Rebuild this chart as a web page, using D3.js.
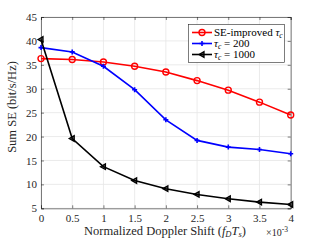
<!DOCTYPE html>
<html><head><meta charset="utf-8">
<script src="https://cdn.jsdelivr.net/npm/d3@7"></script>
<style>body{margin:0;background:#fff}svg{display:block}</style>
</head><body><svg id="c" width="321" height="241"></svg>
<script>
const xVals = [0, 0.5, 1, 1.5, 2, 2.5, 3, 3.5, 4];
const seImproved = [36.3, 36.1, 35.6, 34.7, 33.5, 31.7, 29.7, 27.2, 24.5];
const tau200 = [38.6, 37.7, 34.7, 29.8, 23.5, 19.2, 17.8, 17.3, 16.4];
const tau1000 = [40.3, 19.6, 13.7, 10.8, 9.1, 7.9, 7.0, 6.3, 5.8];
const xTicks = [0, 0.5, 1, 1.5, 2, 2.5, 3, 3.5, 4];
const yTicks = [5, 10, 15, 20, 25, 30, 35, 40, 45];

const svg = d3.select("#c");
const L = 41, R = 290.7, T = 17, B = 208.3;
const x = d3.scaleLinear().domain([0, 4]).range([L, R]);
const y = d3.scaleLinear().domain([5, 45]).range([B, T]);
const font = "Liberation Serif, Times New Roman, serif";

// grid
const g = svg.append("g");
xTicks.forEach(t => g.append("line").attr("x1", x(t)).attr("x2", x(t)).attr("y1", T).attr("y2", B).attr("stroke", "#e6e6e6").attr("stroke-width", 0.8));
yTicks.forEach(t => g.append("line").attr("x1", L).attr("x2", R).attr("y1", y(t)).attr("y2", y(t)).attr("stroke", "#e6e6e6").attr("stroke-width", 0.8));

// axes
const ax = svg.append("g").attr("transform", `translate(0,${B})`).call(d3.axisBottom(x).tickValues(xTicks).tickSize(-3).tickPadding(6).tickFormat(d => d3.format("~g")(d)));
const ay = svg.append("g").attr("transform", `translate(${L},0)`).call(d3.axisLeft(y).tickValues(yTicks).tickSize(-3).tickPadding(4));
const axTop = svg.append("g").attr("transform", `translate(0,${T})`).call(d3.axisTop(x).tickValues(xTicks).tickSize(-3).tickFormat(""));
const ayR = svg.append("g").attr("transform", `translate(${R},0)`).call(d3.axisRight(y).tickValues(yTicks).tickSize(-3).tickFormat(""));
[ax, ay, axTop, ayR].forEach(a => {
  a.selectAll("path,line").attr("stroke", "#262626").attr("stroke-width", 0.6);
  a.selectAll("text").attr("font-family", font).attr("font-size", 11).attr("fill", "#262626");
});

// lines
const line = d3.line().x((d, i) => x(xVals[i])).y(d => y(d));
const series = [
  {vals: seImproved, color: "#ff0000", marker: "circle"},
  {vals: tau200, color: "#0000ff", marker: "plus"},
  {vals: tau1000, color: "#000000", marker: "tri"}
];
function drawMarker(sel, m, cx, cy, color) {
  if (m === "circle") sel.append("circle").attr("cx", cx).attr("cy", cy).attr("r", 3).attr("fill", "none").attr("stroke", color).attr("stroke-width", 1.4);
  else if (m === "plus") {
    sel.append("path").attr("d", `M${cx-2.5},${cy}H${cx+2.5}M${cx},${cy-2.5}V${cy+2.5}`).attr("stroke", color).attr("stroke-width", 1.6);
  } else {
    sel.append("path").attr("d", `M${cx-3},${cy}L${cx+2},${cy-2.8}L${cx+2},${cy+2.8}Z`).attr("fill", color).attr("fill-opacity", 0.6).attr("stroke", color).attr("stroke-width", 1.3);
  }
}
series.forEach(s => {
  svg.append("path").datum(s.vals).attr("d", line).attr("fill", "none").attr("stroke", s.color).attr("stroke-width", 1.6);
  const mg = svg.append("g");
  s.vals.forEach((v, i) => drawMarker(mg, s.marker, x(xVals[i]), y(v), s.color));
});

// legend
const lg = svg.append("g");
lg.append("rect").attr("x", 188.5).attr("y", 24.5).attr("width", 96).attr("height", 38).attr("fill", "#fff").attr("stroke", "#262626").attr("stroke-width", 0.6);
const labels = [
  {html: ["SE-improved ", "τ", "c", ""]},
  {html: ["", "τ", "c", " = 200"]},
  {html: ["", "τ", "c", " = 1000"]}
];
const ly = [32.5, 43.5, 54.5];
series.forEach((s, i) => {
  lg.append("line").attr("x1", 192).attr("x2", 212).attr("y1", ly[i]).attr("y2", ly[i]).attr("stroke", s.color).attr("stroke-width", 1.6);
  drawMarker(lg, s.marker, 202, ly[i], s.color);
  const t = lg.append("text").attr("x", 214).attr("y", ly[i] + 3.5).attr("font-family", font).attr("font-size", 11).attr("fill", "#000");
  const p = labels[i].html;
  if (p[0]) t.append("tspan").text(p[0]);
  t.append("tspan").attr("font-style", "italic").text(p[1]);
  t.append("tspan").attr("font-style", "italic").attr("font-size", 7.5).attr("dy", 2).text(p[2]);
  if (p[3]) t.append("tspan").attr("dy", -2).text(p[3]);
});

// axis labels
const xl = svg.append("text").attr("x", 165).attr("y", 235).attr("text-anchor", "middle").attr("font-family", font).attr("font-size", 12.5).attr("fill", "#262626");
xl.append("tspan").text("Normalized Doppler Shift (");
xl.append("tspan").attr("font-style", "italic").text("f");
xl.append("tspan").attr("font-style", "italic").attr("font-size", 8.5).attr("dy", 2).text("D");
xl.append("tspan").attr("font-style", "italic").attr("dy", -2).text("T");
xl.append("tspan").attr("font-style", "italic").attr("font-size", 8.5).attr("dy", 2).text("s");
xl.append("tspan").attr("dy", -2).text(")");

const ex = svg.append("text").attr("x", 266).attr("y", 236).attr("font-family", font).attr("font-size", 10).attr("fill", "#262626");
ex.append("tspan").text("×10");
ex.append("tspan").attr("font-size", 7.5).attr("dy", -4).text("-3");

svg.append("text").attr("transform", "translate(16,107) rotate(-90)").attr("text-anchor", "middle").attr("font-family", font).attr("font-size", 12.5).attr("fill", "#262626").text("Sum SE (bit/s/Hz)");
</script></body></html>
